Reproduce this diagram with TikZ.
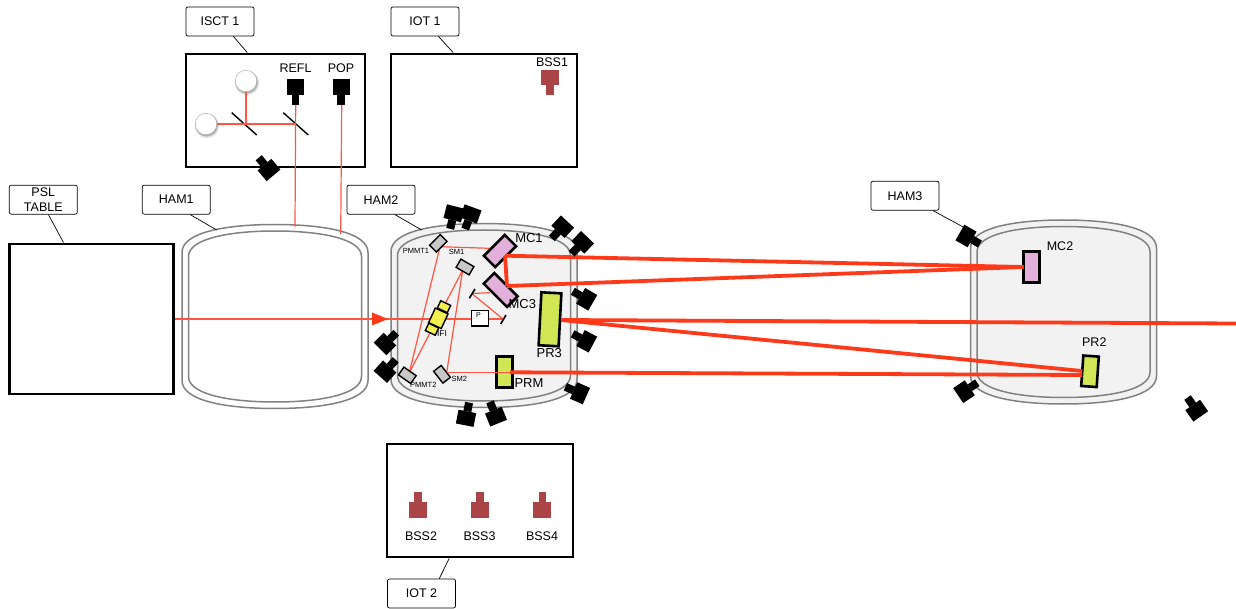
\documentclass[tikz,border=0pt]{standalone}
\usepackage{fontspec}
\setmainfont{Liberation Sans}
\definecolor{beamred}{RGB}{255,58,26}
\definecolor{thinred}{RGB}{255,84,66}
\definecolor{mcpink}{RGB}{226,176,218}
\definecolor{prgreen}{RGB}{208,230,84}
\definecolor{ifiyellow}{RGB}{243,239,80}
\definecolor{bssred}{RGB}{170,68,70}
\definecolor{wallgray}{RGB}{128,130,128}
\definecolor{vacgray}{RGB}{242,242,242}
\definecolor{smgray}{RGB}{200,200,200}
\newcommand{\txt}[1]{\fontsize{#1}{15}\selectfont}
\tikzset{
    tablebox/.style={draw, line width=2.8pt, inner sep=0pt},
    tag/.style={draw, line width=0.7pt, rounded corners=2pt, minimum width=68pt, minimum height=29pt, inner sep=0pt, align=center, font=\txt{12.5}},
    leader/.style={line width=0.7pt},
    thinbeam/.style={line width=1.2pt, thinred},
    thickbeam/.style={line width=3.8pt, beamred},
    optic/.style={draw, line width=2.6pt, inner sep=0pt},
    smallopt/.style={draw, line width=1.4pt, fill=smgray, minimum width=15pt, minimum height=9.5pt, inner sep=0pt},
    ifipart/.style={draw, line width=1.4pt, fill=ifiyellow, inner sep=0pt},
    lbl/.style={font=\txt{12.5}, inner sep=0pt},
    biglbl/.style={font=\txt{13}, inner sep=0pt},
    tinylbl/.style={font=\txt{7.5}, inner sep=0pt},
    lamp/.style={circle, draw=gray!70, line width=0.4pt, fill=white, minimum size=21.5pt, inner sep=0pt},
    pics/lampshade/.style={code={
        \fill[gray!25] (0.9,1.8) circle (12.2);
        \fill[gray!60] (0.7,1.3) circle (11.2);
    }},
    pics/chamber/.style={code={
        \filldraw[line width=1.5pt, wallgray, fill=#1]
            (-93,-64) .. controls (-93,-84) and (-50,-92) .. (0,-92)
            .. controls (50,-92) and (93,-84) .. (93,-64) -- (93,64)
            .. controls (93,84) and (50,92) .. (0,92)
            .. controls (-50,92) and (-93,84) .. (-93,64) -- cycle;
        \draw[line width=1.5pt, wallgray]
            (-86.5,-60) .. controls (-86.5,-78) and (-45,-85.5) .. (0,-85.5)
            .. controls (45,-85.5) and (86.5,-78) .. (86.5,-60) -- (86.5,60)
            .. controls (86.5,78) and (45,85.5) .. (0,85.5)
            .. controls (-45,85.5) and (-86.5,78) .. (-86.5,60) -- cycle;
    }},
    pics/camera/.style={code={
        \fill[black] (-7,-9) rectangle (7,9);
        \fill[black] (7,-4) rectangle (16,4);
    }}
}

\begin{document}
\begin{tikzpicture}[x=1pt, y=-1pt]
    \useasboundingbox (0,0) rectangle (1236,609);

    % Vacuum chambers
    \pic at (275,316.5) {chamber=white};
    \pic at (484,315.5) {chamber=vacgray};
    \pic at (1063.5,312) {chamber=vacgray};

    % Tables
    \node[tablebox, minimum width=164pt, minimum height=150pt] (psl) at (91.3,319) {};
    \node[tablebox, minimum width=179pt, minimum height=113pt] (isct) at (275.5,110.5) {};
    \node[tablebox, minimum width=186pt, minimum height=113pt] (iotone) at (484,110.5) {};
    \node[tablebox, minimum width=186pt, minimum height=113pt] (iottwo) at (480,500.5) {};

    % Tags
    \node[tag] (tagisct) at (220,21.5) {ISCT 1};
    \node[tag] (tagiotone) at (425,21.5) {IOT 1};
    \node[tag] (tagpsl) at (43.3,199.7) {PSL\\TABLE};
    \node[tag] (tagham1) at (176.3,199.7) {HAM1};
    \node[tag] (tagham2) at (381,199.7) {HAM2};
    \node[tag] (tagham3) at (905,195.7) {HAM3};
    \node[tag] (tagiottwo) at (421.5,593.5) {IOT 2};
    \coordinate (wallham1) at (216.7,230);
    \coordinate (wallham2) at (421.7,230);
    \coordinate (wallham3) at (965,228);

    \draw[leader] (tagisct.-48) -- (isct.116);
    \draw[leader] (tagiotone.-48) -- (iotone.118);
    \draw[leader] (tagpsl.-71) -- (psl.110);
    \draw[leader] (tagham1.-47) -- (wallham1);
    \draw[leader] (tagham2.-47) -- (wallham2);
    \draw[leader] (tagham3.-28) -- (wallham3);
    \draw[leader] (tagiottwo.40) -- (iottwo.-118);

    % ISCT 1 layout
    \coordinate (splitA) at (246,124);
    \coordinate (splitB) at (295.5,124);
    \coordinate (reflin) at (295,226.7);
    \coordinate (popin) at (340.7,234);
    \pic at (246,81) {lampshade};
    \pic at (206,124) {lampshade};
    \node[lamp] (pdA) at (246,81) {};
    \node[lamp] (pdB) at (206,124) {};
    \fill (286.7,79.3) rectangle (304.3,95);
    \fill (291.7,95) rectangle (299.3,105);
    \fill (332.7,79.3) rectangle (350.3,95);
    \fill (337.3,95) rectangle (345,105);
    \coordinate (reflout) at (295.7,105);
    \coordinate (popout) at (341.7,105);
    \draw[line width=1.4pt] (231.7,112.7) -- (256.7,135);
    \draw[line width=1.4pt] (283.3,112.7) -- (308.3,135);
    \draw[thinbeam, line width=1.4pt] (pdB) -- (splitB);
    \draw[thinbeam] (pdA) -- (splitA);
    \draw[thinbeam] (reflout) -- (reflin);
    \draw[thinbeam] (popout) -- (popin);
    \node[lbl] (refl) at (295.5,68) {REFL};
    \node[lbl] (pop) at (341,68) {POP};

    % BSS photodiodes
    \fill[bssred] (540.7,70) rectangle (558.7,85);
    \fill[bssred] (546,85) rectangle (554,95.3);
    \node[lbl] (bssone) at (552,62.5) {BSS1};
    \foreach \xa in {418, 480, 542.3} {
        \fill[bssred] (\xa-9,502) rectangle (\xa+9,517.7);
        \fill[bssred] (\xa-3.7,492.3) rectangle (\xa+3.7,502);
    }
    \node[lbl] (bsstwo) at (421,536) {BSS2};
    \node[lbl] (bssthree) at (479.5,536) {BSS3};
    \node[lbl] (bssfour) at (542,536) {BSS4};

    % Beams under the isolator and P box
    \coordinate (arrowtip) at (388,319);
    \coordinate (foldB) at (503,319);
    \coordinate (pmmtA) at (440,246.7);
    \coordinate (pmmtB) at (409.3,372.7);
    \coordinate (smA) at (462.7,270);
    \coordinate (smB) at (446.7,372.3);
    \coordinate (foldA) at (471.7,293.5);
    \coordinate (mcthreein) at (490,292.7);
    \coordinate (mconein) at (489.3,248.3);
    \coordinate (prmin) at (511.7,372.3);
    \draw[thinbeam] (psl.east) -- (arrowtip);
    \draw[thinbeam] (arrowtip) -- (foldB);
    \fill[beamred] (arrowtip) -- ++(-16,-6.5) -- ++(0,13) -- cycle;
    \draw[thinbeam] (foldB) -- (foldA);
    \draw[thinbeam] (foldA) -- (mcthreein);
    \draw[thinbeam] (mconein) -- (pmmtA);
    \draw[thinbeam] (pmmtA) -- (pmmtB);
    \draw[thinbeam] (pmmtB) -- (smA);
    \draw[thinbeam] (smA) -- (smB);

    % Input optics
    \node[ifipart, rotate=65, minimum width=8pt, minimum height=11pt] (ifiA) at (444,306.7) {};
    \node[ifipart, rotate=65, minimum width=8pt, minimum height=11pt] (ifiB) at (432,329.3) {};
    \node[ifipart, rotate=65, minimum width=16pt, minimum height=14pt] (ifi) at (438.3,318.3) {};
    \node[draw, line width=1.3pt, fill=white, minimum width=17pt, minimum height=15.5pt, inner sep=0pt] (pbox) at (480,318.3) {};
    \node[font=\txt{7}, inner sep=0pt] (plabel) at (478.5,315.5) {P};
    \draw[line width=1.6pt] (469.3,298.3) -- (475,289);
    \draw[line width=1.6pt] (500.7,324) -- (506,315);
    \node[smallopt, rotate=45] (pmmt1) at (438.3,243.3) {};
    \node[smallopt, rotate=-30] (sm1) at (465,267) {};
    \node[smallopt, rotate=-52] (sm2) at (442,374.3) {};
    \node[smallopt, rotate=-35] (pmmt2) at (407.3,375.3) {};

    % Core optics
    \node[optic, fill=mcpink, rotate=45, minimum width=29.5pt, minimum height=16pt] (mc1) at (500,251) {};
    \node[optic, fill=mcpink, rotate=-45, minimum width=33pt, minimum height=15pt] (mc3) at (500.7,290) {};
    \node[optic, fill=mcpink, minimum width=16pt, minimum height=31pt] (mc2) at (1031.7,267.2) {};
    \node[optic, fill=prgreen, rotate=-3, minimum width=20pt, minimum height=53pt] (pr3) at (550,319.3) {};
    \node[optic, fill=prgreen, minimum width=15.5pt, minimum height=30.5pt] (prm) at (504.5,372) {};
    \node[optic, fill=prgreen, rotate=-4, minimum width=15.5pt, minimum height=30.5pt] (pr2) at (1090,371.3) {};

    % Main beams
    \coordinate (mconeout) at (505,255.7);
    \coordinate (mcthreeout) at (507,286);
    \coordinate (mctwoin) at (1023.5,267);
    \coordinate (prthreeout) at (561,320);
    \coordinate (prtwoA) at (1082,371);
    \coordinate (prtwoB) at (1082,375);
    \coordinate (prmout) at (510,372.3);
    \coordinate (exitbeam) at (1236,323.5);
    \draw[thinbeam] (smB) -- (prmin);
    \draw[thickbeam] (mconeout) -- (mctwoin);
    \draw[thickbeam] (mcthreeout) -- (mctwoin);
    \draw[thickbeam] (mconeout) -- (mcthreeout);
    \draw[thickbeam] (prthreeout) -- (exitbeam);
    \draw[thickbeam] (prthreeout) -- (prtwoA);
    \draw[thickbeam] (prmout) -- (prtwoB);

    % Cameras
    \foreach \px/\py/\ang in {269/170/130, 454/213.3/-104, 470.7/214/-110, 562.7/226.7/-133,
        582.7/242.3/-134, 586.7/299.3/150, 586.7/341.3/152, 580/393.3/156, 466/418.3/79,
        496/416.7/112, 385/344/45, 385/371.7/48, 966/236/-30, 964/391.7/34, 1196.7/410.7/125} {
        \pic[rotate=\ang] at (\px,\py) {camera};
    }

    % Optic labels
    \node[biglbl] (lmc1) at (529,238.5) {MC1};
    \node[biglbl] (lmc3) at (522.3,304) {MC3};
    \node[biglbl] (lpr3) at (549.3,352.7) {PR3};
    \node[biglbl] (lprm) at (529,382.7) {PRM};
    \node[lbl] (lmc2) at (1060,245.7) {MC2};
    \node[lbl] (lpr2) at (1094.3,342) {PR2};
    \node[tinylbl] (lpmmt1) at (416,251) {PMMT1};
    \node[tinylbl] (lsm1) at (456.7,252) {SM1};
    \node[tinylbl] (lpmmt2) at (423.3,385.3) {PMMT2};
    \node[tinylbl] (lsm2) at (459.3,379.3) {SM2};
    \node[font=\txt{8.5}, inner sep=0pt] (lifi) at (442,334) {IFI};
\end{tikzpicture}
\end{document}
